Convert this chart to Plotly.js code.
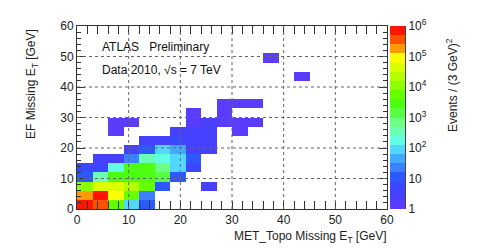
<!DOCTYPE html>
<html>
<head>
<meta charset="utf-8">
<script src="https://cdn.plot.ly/plotly-3.0.1.min.js"></script>
<style>html,body{margin:0;padding:0;background:#fff}#plot{width:485px;height:250px}</style>
</head>
<body>
<div id="plot"></div>
<script>
// Bin centres (3 GeV bins, 0-60 GeV)
const xCenters = [1.5,4.5,7.5,10.5,13.5,16.5,19.5,22.5,25.5,28.5,31.5,34.5,37.5,40.5,43.5,46.5,49.5,52.5,55.5,58.5];
const yCenters = [1.5,4.5,7.5,10.5,13.5,16.5,19.5,22.5,25.5,28.5,31.5,34.5,37.5,40.5,43.5,46.5,49.5,52.5,55.5,58.5];

// Event counts per bin, one array per EF row (row 0 = 0-3 GeV), 0 = empty
const row00 = [800000,350000,5000,80,10,0,0,0,0,0,0,0,0,0,0,0,0,0,0,0];
const row01 = [180000,700000,90000,5000,25,0,0,0,0,0,0,0,0,0,0,0,0,0,0,0];
const row02 = [10000,40000,60000,20000,5000,10,0,0,2,0,0,0,0,0,0,0,0,0,0,0];
const row03 = [15,300,3000,3000,2500,1500,8,0,0,0,0,0,0,0,0,0,0,0,0,0];
const row04 = [4,4,250,3000,2500,700,80,5,0,0,0,0,0,0,0,0,0,0,0,0];
const row05 = [0,3,3,25,300,200,80,8,0,0,0,0,0,0,0,0,0,0,0,0];
const row06 = [0,0,0,3,10,70,50,3,3,0,0,0,0,0,0,0,0,0,0,0];
const row07 = [0,0,0,0,2,3,4,3,2,0,0,0,0,0,0,0,0,0,0,0];
const row08 = [0,0,1,0,0,0,2,2,2,0,1,0,0,0,0,0,0,0,0,0];
const row09 = [0,0,1,1,0,0,0,1,2,1,1,1,0,0,0,0,0,0,0,0];
const row10 = [0,0,0,0,0,0,0,1,0,1,0,0,0,0,0,0,0,0,0,0];
const row11 = [0,0,0,0,0,0,0,0,0,1,1,1,0,0,0,0,0,0,0,0];
const row12 = [0,0,0,0,0,0,0,0,0,0,0,0,0,0,0,0,0,0,0,0];
const row13 = [0,0,0,0,0,0,0,0,0,0,0,0,0,0,0,0,0,0,0,0];
const row14 = [0,0,0,0,0,0,0,0,0,0,0,0,0,0,1,0,0,0,0,0];
const row15 = [0,0,0,0,0,0,0,0,0,0,0,0,0,0,0,0,0,0,0,0];
const row16 = [0,0,0,0,0,0,0,0,0,0,0,0,1,0,0,0,0,0,0,0];
const row17 = [0,0,0,0,0,0,0,0,0,0,0,0,0,0,0,0,0,0,0,0];
const row18 = [0,0,0,0,0,0,0,0,0,0,0,0,0,0,0,0,0,0,0,0];
const row19 = [0,0,0,0,0,0,0,0,0,0,0,0,0,0,0,0,0,0,0,0];
const counts = [row00,row01,row02,row03,row04,row05,row06,row07,row08,row09,
                row10,row11,row12,row13,row14,row15,row16,row17,row18,row19];

// Colour-bar tick labels
const zTickVals = [1,10,100,1000,10000,100000,1000000];
const zTickText = ['1','10','10<sup>2</sup>','10<sup>3</sup>','10<sup>4</sup>','10<sup>5</sup>','10<sup>6</sup>'];
const zMinorVals = [2,3,4,5,6,7,8,9,20,30,40,50,60,70,80,90,200,300,400,500,600,700,800,900,
  2000,3000,4000,5000,6000,7000,8000,9000,2e4,3e4,4e4,5e4,6e4,7e4,8e4,9e4,2e5,3e5,4e5,5e5,6e5,7e5,8e5,9e5];

// ROOT-like palette, 20 contour bands over log10 range 0..6
const bandColors = ['#5a3cff','#4640ff','#3a46ff','#2c58ff','#3a80ff','#42aaff','#52d8ff','#60ffe4',
  '#6affb4','#6cff84','#56ff44','#4cff10','#66ff00','#8cff00','#b4ff00','#dcff00','#ffff00',
  '#ff9a00','#ff5200','#ff1600'];

const gridVals = [10,20,30,40,50];

const zLog = counts.map(r => r.map(v => v > 0 ? Math.log10(v) : null));
const cs = [];
bandColors.forEach((c,k) => { cs.push([k/bandColors.length, c]); cs.push([(k+1)/bandColors.length, c]); });

const FONT = 'Liberation Sans, Arial, Helvetica, sans-serif';
const W = 485, H = 250, ML = 77, MR = 75, MT = 26, MB = 41;
const PW = W - ML - MR;
const plotRight = 387;
const px = v => (v - ML) / PW;
const py = v => (H - MB - v) / (H - MT - MB);

const traces = [
  {
    type: 'heatmap', x: xCenters, y: yCenters, z: zLog,
    zmin: 0, zmax: 6, colorscale: cs, hoverinfo: 'skip',
    colorbar: {
      x: px(390), xanchor: 'left', xref: 'paper', xpad: 0, ypad: 0,
      y: 0.5, yanchor: 'middle', len: 1, lenmode: 'fraction',
      thickness: 15, thicknessmode: 'pixels', outlinewidth: 0,
      showticklabels: false, ticks: ''
    }
  },
  { type: 'scatter', x: [null], y: [null], yaxis: 'y2', mode: 'markers', hoverinfo: 'skip', showlegend: false }
];

const axCommon = {
  range: [0, 60], dtick: 10, tick0: 0, ticks: 'inside', ticklen: 8, tickwidth: 1, tickcolor: '#333',
  minor: { dtick: 2, ticks: 'inside', ticklen: 4, tickcolor: '#333' },
  showline: true, linecolor: '#333', linewidth: 1, mirror: 'allticks',
  showgrid: false, zeroline: false, fixedrange: true,
  tickfont: { family: FONT, size: 12, color: '#222' }
};

const shapes = [];
gridVals.forEach(g => {
  shapes.push({ type: 'line', xref: 'x', yref: 'paper', x0: g, x1: g, y0: 0, y1: 1, layer: 'above',
    line: { color: '#666', width: 1, dash: 'dot' } });
  shapes.push({ type: 'line', xref: 'paper', yref: 'y', x0: 0, x1: px(plotRight), y0: g, y1: g, layer: 'above',
    line: { color: '#666', width: 1, dash: 'dot' } });
});

const layout = {
  width: W, height: H, margin: { l: ML, r: MR, t: MT, b: MB },
  paper_bgcolor: '#fff', plot_bgcolor: '#fff', showlegend: false,
  font: { family: FONT, size: 12, color: '#222' },
  xaxis: Object.assign({}, axCommon, { domain: [0, px(plotRight)] }),
  yaxis: Object.assign({}, axCommon),
  yaxis2: {
    overlaying: 'y', type: 'log', range: [0, 6], anchor: 'free', position: px(405), side: 'right',
    tickmode: 'array', tickvals: zTickVals, ticktext: zTickText,
    ticks: 'inside', ticklen: 7, tickcolor: '#444',
    minor: { tickmode: 'array', tickvals: zMinorVals, ticks: 'inside', ticklen: 4, tickcolor: '#444' },
    showline: true, linecolor: '#444', showgrid: false, zeroline: false, fixedrange: true,
    tickfont: { family: FONT, size: 12, color: '#222' }
  },
  shapes: shapes,
  annotations: [
    { text: 'ATLAS\u00a0\u00a0\u00a0Preliminary', xref: 'paper', yref: 'paper', x: px(100), y: py(47),
      xanchor: 'left', yanchor: 'middle', showarrow: false, font: { family: FONT, size: 12, color: '#111' } },
    { text: 'Data 2010, \u221As = 7 TeV', xref: 'paper', yref: 'paper', x: px(100), y: py(70),
      xanchor: 'left', yanchor: 'middle', showarrow: false, font: { family: FONT, size: 12, color: '#111' } },
    { text: 'MET_Topo Missing E<sub>T</sub> [GeV]', xref: 'paper', yref: 'paper', x: px(389), y: py(237),
      xanchor: 'right', yanchor: 'middle', showarrow: false, font: { family: FONT, size: 12, color: '#222' } },
    { text: 'EF Missing E<sub>T</sub> [GeV]', xref: 'paper', yref: 'paper', x: px(32), y: py(27),
      xanchor: 'center', yanchor: 'top', textangle: -90, showarrow: false, font: { family: FONT, size: 12, color: '#222' } },
    { text: 'Events / (3 GeV)<sup>2</sup>', xref: 'paper', yref: 'paper', x: px(452), y: py(36),
      xanchor: 'center', yanchor: 'top', textangle: -90, showarrow: false, font: { family: FONT, size: 12, color: '#222' } }
  ]
};

Plotly.newPlot('plot', traces, layout, { staticPlot: true, displayModeBar: false });
</script>
</body>
</html>
